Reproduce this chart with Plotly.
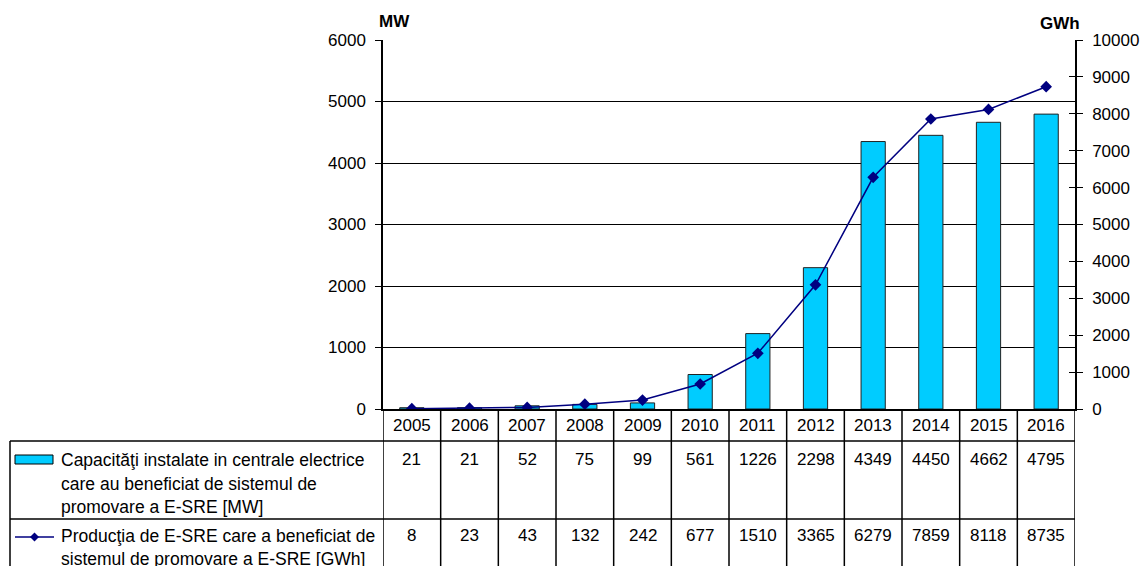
import plotly.graph_objects as go

years = ["2005", "2006", "2007", "2008", "2009", "2010", "2011", "2012", "2013", "2014", "2015", "2016"]
capacity_mw = [21, 21, 52, 75, 99, 561, 1226, 2298, 4349, 4450, 4662, 4795]
production_gwh = [8, 23, 43, 132, 242, 677, 1510, 3365, 6279, 7859, 8118, 8735]
bar_name_lines = ["Capacităţi instalate in centrale electrice", "care au beneficiat de sistemul de", "promovare a E-SRE [MW]"]
line_name_lines = ["Producţia de E-SRE care a beneficiat de", "sistemul de promovare a E-SRE [GWh]"]
left_title = "MW"
right_title = "GWh"

W, H = 1141, 566
ML, MR, MT, MB = 10, 66, 40, 0
PW = W - ML - MR
PH = H - MT - MB
PLOT_LEFT, PLOT_BOTTOM = 383, 409

def px(p):
    return (p - ML) / PW

def py(p):
    return (H - MB - p) / PH

FONT = "Liberation Sans, Arial, sans-serif"
FS = 17
LFS = 17.5
BAR_COLOR = "#00CCFF"
LINE_COLOR = "#000080"

idx = list(range(len(years)))

fig = go.Figure()
fig.add_trace(go.Bar(x=idx, y=capacity_mw, marker=dict(color=BAR_COLOR, line=dict(color="#222222", width=1)),
                     name=" ".join(bar_name_lines), yaxis="y"))
fig.add_trace(go.Scatter(x=idx, y=production_gwh, mode="lines+markers", yaxis="y2",
                         line=dict(color=LINE_COLOR, width=1.5),
                         marker=dict(symbol="diamond", size=9, color=LINE_COLOR),
                         name=" ".join(line_name_lines)))

annotations = []
shapes = []

def ann(text, xref, x, y, xanchor="center", size=FS):
    annotations.append(dict(text=text, xref=xref, yref="paper", x=x, y=y, xanchor=xanchor, yanchor="middle",
                            showarrow=False, font=dict(size=size, family=FONT, color="black")))

# axis titles
ann("<b>%s</b>" % left_title, "paper", px(394), py(21.5))
ann("<b>%s</b>" % right_title, "paper", px(1060), py(23.5))

# table text
for i, yr in enumerate(years):
    ann(yr, "x", i, py(425.5))
    ann(str(capacity_mw[i]), "x", i, py(459))
    ann(str(production_gwh[i]), "x", i, py(535.5))

for j, t in enumerate(bar_name_lines):
    ann(t, "paper", px(59), py(460 + 23.5 * j), xanchor="left", size=LFS)
for j, t in enumerate(line_name_lines):
    ann(t, "paper", px(59), py(536 + 23 * j), xanchor="left", size=LFS)

# table grid lines
lc = dict(color="black", width=1.5)
for k in range(len(years) + 1):
    shapes.append(dict(type="line", xref="x", yref="paper", x0=k - 0.5, x1=k - 0.5, y0=py(PLOT_BOTTOM), y1=py(620), line=lc))
shapes.append(dict(type="line", xref="paper", yref="paper", x0=0, x1=1, y0=py(441), y1=py(441), line=lc))
shapes.append(dict(type="line", xref="paper", yref="paper", x0=0, x1=1, y0=py(519), y1=py(519), line=lc))
shapes.append(dict(type="line", xref="paper", yref="paper", x0=0, x1=0, y0=py(441), y1=py(620), line=lc))

# legend keys
shapes.append(dict(type="rect", xref="paper", yref="paper", x0=px(15), x1=px(53), y0=py(464), y1=py(455),
                   fillcolor=BAR_COLOR, line=dict(color="black", width=1)))
shapes.append(dict(type="line", xref="paper", yref="paper", x0=px(15), x1=px(54), y0=py(537), y1=py(537),
                   line=dict(color=LINE_COLOR, width=1.5)))
cx, cy, d = 34.5, 537, 4.5
shapes.append(dict(type="path", xref="paper", yref="paper",
                   path="M %f,%f L %f,%f L %f,%f L %f,%f Z" % (px(cx - d), py(cy), px(cx), py(cy - d), px(cx + d), py(cy), px(cx), py(cy + d)),
                   fillcolor=LINE_COLOR, line=dict(color=LINE_COLOR, width=0)))

ydom = [py(PLOT_BOTTOM), 1]
xdom = [px(PLOT_LEFT), 1]

fig.update_layout(
    width=W, height=H,
    margin=dict(l=ML, r=MR, t=MT, b=MB, pad=0, autoexpand=False),
    paper_bgcolor="white", plot_bgcolor="white",
    showlegend=False, bargap=0.58,
    font=dict(family=FONT, size=FS, color="black"),
    xaxis=dict(domain=xdom, range=[-0.5, len(years) - 0.5], showticklabels=False, ticks="", automargin=False,
               showline=True, linecolor="black", linewidth=1.5, showgrid=False, zeroline=False, fixedrange=True),
    yaxis=dict(domain=ydom, range=[0, 6000], dtick=1000, tick0=0, showgrid=True, gridcolor="black", gridwidth=1,
               showline=True, linecolor="black", linewidth=1.5, ticks="outside", ticklen=6, tickcolor="black",
               ticklabelstandoff=6, zeroline=False, automargin=False, tickformat="d",
               tickfont=dict(size=FS, family=FONT, color="black")),
    yaxis2=dict(overlaying="y", side="right", range=[0, 10000], dtick=1000, tick0=0, showgrid=False,
                showline=True, linecolor="black", linewidth=1.5, ticks="outside", ticklen=6, tickcolor="black",
                ticklabelstandoff=6, zeroline=False, automargin=False, tickformat="d",
                tickfont=dict(size=FS, family=FONT, color="black")),
    yaxis3=dict(overlaying="y", side="right", range=[0, 10000], dtick=1000, tick0=0, showgrid=False, automargin=False,
                showline=False, ticks="inside", ticklen=6, tickcolor="black", showticklabels=False, zeroline=False),
    annotations=annotations, shapes=shapes,
)
# invisible trace to activate the inner tick marks of the right axis
fig.add_trace(go.Scatter(x=[idx[0]], y=[0], yaxis="y3", mode="markers", marker=dict(opacity=0), hoverinfo="skip", showlegend=False))

fig.write_html("out.html")
